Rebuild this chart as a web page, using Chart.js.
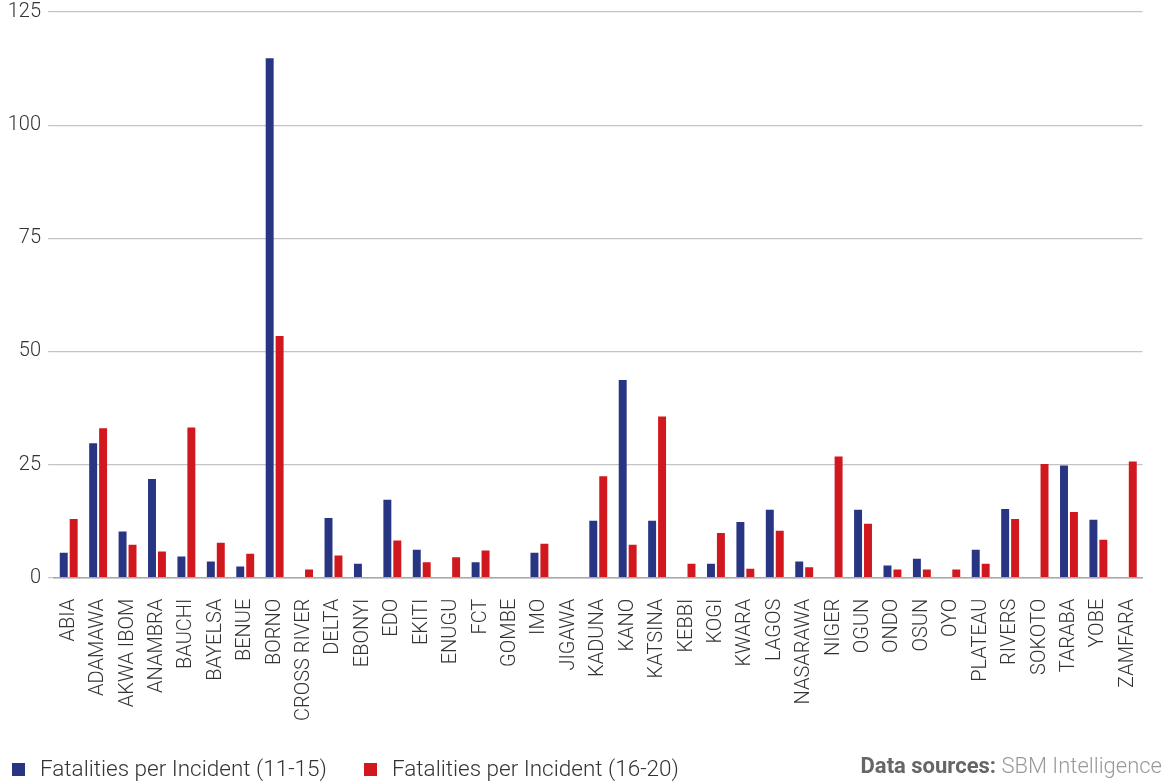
<!DOCTYPE html>
<html>
<head>
<meta charset="utf-8">
<script src="https://cdn.jsdelivr.net/npm/chart.js@4.4.1/dist/chart.umd.min.js"></script>
<style>
  html, body { margin: 0; padding: 0; background: #fff; }
  #wrap { position: relative; width: 1165px; height: 783px; }
  .txt { position: absolute; font-family: Roboto, "Open Sans", sans-serif; font-size: 22.5px; font-weight: 300; white-space: nowrap; }
  .key { position: absolute; top: 763px; width: 13px; height: 13px; }
  #source { right: 3px; top: 753px; color: #9a9a9a; font-size: 22px; }
  #source b { color: #666; font-weight: 700; }
</style>
</head>
<body>
<div id="wrap">
  <canvas id="barChart" width="1165" height="783"></canvas>
  <div class="key" id="key1" style="left:12px"></div>
  <div class="txt" id="lab1" style="left:40px; top:755px; color:#333"></div>
  <div class="key" id="key2" style="left:364px"></div>
  <div class="txt" id="lab2" style="left:392px; top:755px; color:#333"></div>
  <div class="txt" id="source"><b>Data sources:</b> SBM Intelligence</div>
</div>
<script>
const states = ["ABIA", "ADAMAWA", "AKWA IBOM", "ANAMBRA", "BAUCHI", "BAYELSA", "BENUE", "BORNO",
  "CROSS RIVER", "DELTA", "EBONYI", "EDO", "EKITI", "ENUGU", "FCT", "GOMBE", "IMO", "JIGAWA",
  "KADUNA", "KANO", "KATSINA", "KEBBI", "KOGI", "KWARA", "LAGOS", "NASARAWA", "NIGER", "OGUN",
  "ONDO", "OSUN", "OYO", "PLATEAU", "RIVERS", "SOKOTO", "TARABA", "YOBE", "ZAMFARA"];

// fatalities per incident, 2011-2015
const period1 = [5.5, 29.7, 10.2, 21.8, 4.7, 3.6, 2.5, 114.8,
  0, 13.2, 3.1, 17.2, 6.2, 0, 3.4, 0, 5.5, 0,
  12.6, 43.7, 12.6, 0, 3.1, 12.3, 15.0, 3.6, 0, 15.0,
  2.7, 4.2, 0, 6.2, 15.2, 0, 24.8, 12.8, 0];

// fatalities per incident, 2016-2020
const period2 = [13.0, 33.0, 7.3, 5.8, 33.2, 7.7, 5.3, 53.4,
  1.8, 4.9, 0, 8.2, 3.4, 4.5, 6.0, 0, 7.5, 0,
  22.4, 7.3, 35.6, 3.1, 9.9, 2.0, 10.4, 2.3, 26.8, 11.9,
  1.8, 1.8, 1.8, 3.1, 13.0, 25.1, 14.5, 8.4, 25.7];

const seriesNames = ["Fatalities per Incident (11-15)", "Fatalities per Incident (16-20)"];
const seriesColors = ["#283583", "#d0181e"];
const yTicks = [0, 25, 50, 75, 100, 125];

const fontFamily = "Roboto, 'Open Sans', sans-serif";

let barChart = new Chart("barChart", {
  type: "bar",
  data: {
    labels: states,
    datasets: [
      {
        label: seriesNames[0],
        data: period1,
        backgroundColor: seriesColors[0],
        barPercentage: 0.8,
        categoryPercentage: 0.676
      },
      {
        label: seriesNames[1],
        data: period2,
        backgroundColor: seriesColors[1],
        barPercentage: 0.8,
        categoryPercentage: 0.676
      }
    ]
  },
  options: {
    responsive: false,
    animation: false,
    layout: { padding: { left: 0, right: 14, top: 0, bottom: 49 } },
    plugins: {
      tooltip: { enabled: false },
      legend: { display: false }
    },
    scales: {
      x: {
        grid: { display: false },
        border: { color: "#a8a8a8", width: 1.5 },
        ticks: {
          autoSkip: false,
          maxRotation: 90,
          minRotation: 90,
          padding: 13,
          color: "#333",
          font: { family: fontFamily, size: 20, weight: 300 }
        }
      },
      y: {
        min: 0,
        max: 125,
        afterBuildTicks: (scale) => { scale.ticks = yTicks.map(v => ({ value: v })); },
        afterFit: (scale) => {
          scale.width = 54;
          scale.paddingTop = 12;
          scale.paddingBottom = 0;
        },
        border: { display: false },
        grid: {
          color: "#c4c4c4",
          lineWidth: 1.2,
          tickLength: 6
        },
        ticks: {
          padding: 7,
          color: "#333",
          font: { family: fontFamily, size: 20, weight: 300 }
        }
      }
    }
  }
});

// legend keys
barChart.data.datasets.forEach(function(ds, i) {
  document.getElementById("key" + (i + 1)).style.background = ds.backgroundColor;
  document.getElementById("lab" + (i + 1)).textContent = ds.label;
});
</script>
</body>
</html>
